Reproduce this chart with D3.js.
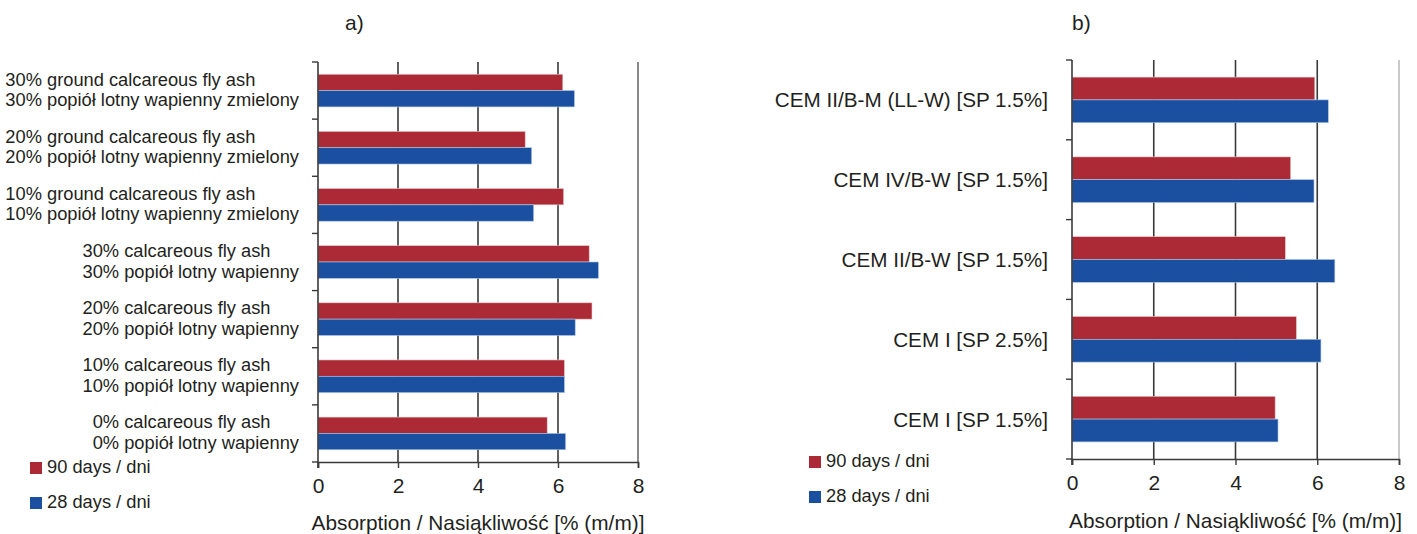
<!DOCTYPE html>
<html>
<head>
<meta charset="utf-8">
<script src="https://cdn.jsdelivr.net/npm/d3@7"></script>
<style>
  body { margin: 0; background: #fff; }
  svg { display: block; font-family: Arial, "Liberation Sans", Helvetica, sans-serif; }
  text { fill: #231f20; }
</style>
</head>
<body>
<svg id="chart" width="1417" height="534"></svg>
<script>
// ---- data ----
var seriesNames = ['90 days / dni', '28 days / dni'];
var seriesColors = ['#ab2a35', '#1b4f9f'];
var xTicks = [0, 2, 4, 6, 8];
var axisTitle = 'Absorption / Nasiąkliwość [% (m/m)]';

// panel a), top to bottom
var catsA = [
    ['30% ground calcareous fly ash', '30% popiół lotny wapienny zmielony'],
    ['20% ground calcareous fly ash', '20% popiół lotny wapienny zmielony'],
    ['10% ground calcareous fly ash', '10% popiół lotny wapienny zmielony'],
    ['30% calcareous fly ash', '30% popiół lotny wapienny'],
    ['20% calcareous fly ash', '20% popiół lotny wapienny'],
    ['10% calcareous fly ash', '10% popiół lotny wapienny'],
    ['0% calcareous fly ash', '0% popiół lotny wapienny']
];
var days90A = [6.12, 5.18, 6.14, 6.78, 6.85, 6.16, 5.73];
var days28A = [6.41, 5.34, 5.39, 7.01, 6.43, 6.16, 6.19];

// panel b), top to bottom
var catsB = [
    'CEM II/B-M (LL-W) [SP 1.5%]',
    'CEM IV/B-W [SP 1.5%]',
    'CEM II/B-W [SP 1.5%]',
    'CEM I [SP 2.5%]',
    'CEM I [SP 1.5%]'
];
var days90B = [5.94, 5.35, 5.22, 5.49, 4.97];
var days28B = [6.27, 5.92, 6.43, 6.09, 5.04];

var svg = d3.select('#chart');

function drawPanel(opt) {
    var g = svg.append('g');
    var idx = d3.range(opt.cats.length);

    var x = d3.scaleLinear().domain([0, 8]).range([opt.left, opt.right]);
    var y0 = d3.scaleBand().domain(idx).range([opt.top, opt.bottom]).padding(0);
    var y1 = d3.scaleBand().domain([0, 1]).range([0, y0.bandwidth()])
        .paddingInner(0).paddingOuter(0.75);

    // vertical grid lines
    g.selectAll('line.grid')
        .data(xTicks.slice(1))
        .enter().append('line')
        .attr('class', 'grid')
        .attr('x1', function(d) { return x(d); })
        .attr('x2', function(d) { return x(d); })
        .attr('y1', opt.top)
        .attr('y2', opt.bottom)
        .attr('stroke', function(d) { return d === 8 ? opt.lastGrid : '#3a3a3a'; })
        .attr('stroke-width', 1.6);

    // bars
    var rows = g.selectAll('g.row')
        .data(idx)
        .enter().append('g')
        .attr('class', 'row')
        .attr('transform', function(i) { return 'translate(0,' + y0(i) + ')'; });

    rows.selectAll('rect')
        .data(function(i) { return [opt.v90[i], opt.v28[i]]; })
        .enter().append('rect')
        .attr('x', x(0))
        .attr('y', function(d, j) { return y1(j); })
        .attr('width', function(d) { return x(d) - x(0); })
        .attr('height', y1.bandwidth())
        .attr('fill', function(d, j) { return seriesColors[j]; })
        .attr('stroke', function(d, j) { return j === 0 ? '#e8c8cb' : '#a9c2e6'; })
        .attr('stroke-width', 0.6);

    // y axis line + ticks on category boundaries
    g.append('line')
        .attr('x1', x(0)).attr('x2', x(0))
        .attr('y1', opt.top).attr('y2', opt.bottom + 6)
        .attr('stroke', '#3a3a3a').attr('stroke-width', 1.6);

    var bounds = idx.map(function(i) { return y0(i); }).concat([opt.bottom]);
    g.selectAll('line.ytick')
        .data(bounds)
        .enter().append('line')
        .attr('class', 'ytick')
        .attr('x1', x(0) - 6).attr('x2', x(0))
        .attr('y1', function(d) { return d; })
        .attr('y2', function(d) { return d; })
        .attr('stroke', '#3a3a3a').attr('stroke-width', 1.4);

    // x axis
    var xAxis = g.append('g')
        .attr('transform', 'translate(0,' + opt.bottom + ')')
        .call(d3.axisBottom(x).tickValues(xTicks).tickSizeOuter(0).tickSize(6).tickPadding(10));
    xAxis.select('.domain').attr('stroke', '#3a3a3a').attr('stroke-width', 1.6);
    xAxis.selectAll('.tick line').attr('stroke', '#3a3a3a').attr('stroke-width', 1.4);
    xAxis.selectAll('.tick text')
        .attr('font-size', 21)
        .attr('font-family', 'Arial, "Liberation Sans", sans-serif')
        .style('fill', '#231f20');

    // axis title
    g.append('text')
        .attr('x', (opt.left + opt.right) / 2)
        .attr('y', opt.titleY)
        .attr('text-anchor', 'middle')
        .attr('font-size', 20.8)
        .text(axisTitle);

    // panel letter
    g.append('text')
        .attr('x', opt.letterX)
        .attr('y', 30)
        .attr('font-size', 21)
        .text(opt.letter);

    // legend
    var leg = g.selectAll('g.legend')
        .data(seriesNames)
        .enter().append('g')
        .attr('class', 'legend')
        .attr('transform', function(d, i) {
            return 'translate(' + opt.legX + ',' + (opt.legY + i * opt.legStep) + ')';
        });
    leg.append('rect')
        .attr('x', 0).attr('y', -11)
        .attr('width', 12).attr('height', 12)
        .attr('fill', function(d, i) { return seriesColors[i]; });
    leg.append('text')
        .attr('x', 17).attr('y', 0)
        .attr('font-size', 18.3)
        .text(function(d) { return d; });

    return { g: g, x: x, y0: y0 };
}

// ---- panel a ----
var pa = drawPanel({
    cats: catsA, v90: days90A, v28: days28A,
    left: 318, right: 638, top: 62, bottom: 462,
    lastGrid: '#6b6b6b', titleY: 530, letter: 'a)', letterX: 345,
    legX: 30, legY: 473, legStep: 35
});

// two-line labels: lines left-aligned, block right-aligned
pa.g.selectAll('text.lab')
    .data(catsA)
    .enter().append('text')
    .attr('class', 'lab')
    .attr('font-size', 18.3)
    .each(function(lines, i) {
        var t = d3.select(this);
        var cy = pa.y0(i) + pa.y0.bandwidth() / 2;
        var spans = t.selectAll('tspan')
            .data(lines)
            .enter().append('tspan')
            .attr('y', function(d, k) { return cy - 5 + k * 20.6; })
            .text(function(d) { return d; });
        var w = 0;
        spans.each(function() { w = Math.max(w, this.getComputedTextLength()); });
        spans.attr('x', 299 - w);
    });

// ---- panel b ----
var pb = drawPanel({
    cats: catsB, v90: days90B, v28: days28B,
    left: 1072, right: 1399, top: 60, bottom: 459,
    lastGrid: '#bdbdbd', titleY: 528, letter: 'b)', letterX: 1072,
    legX: 809, legY: 467, legStep: 35
});

pb.g.selectAll('text.lab')
    .data(catsB)
    .enter().append('text')
    .attr('class', 'lab')
    .attr('x', 1048)
    .attr('y', function(d, i) { return pb.y0(i) + pb.y0.bandwidth() / 2; })
    .attr('dy', '0.36em')
    .attr('text-anchor', 'end')
    .attr('font-size', 20.7)
    .text(function(d) { return d; });
</script>
</body>
</html>
